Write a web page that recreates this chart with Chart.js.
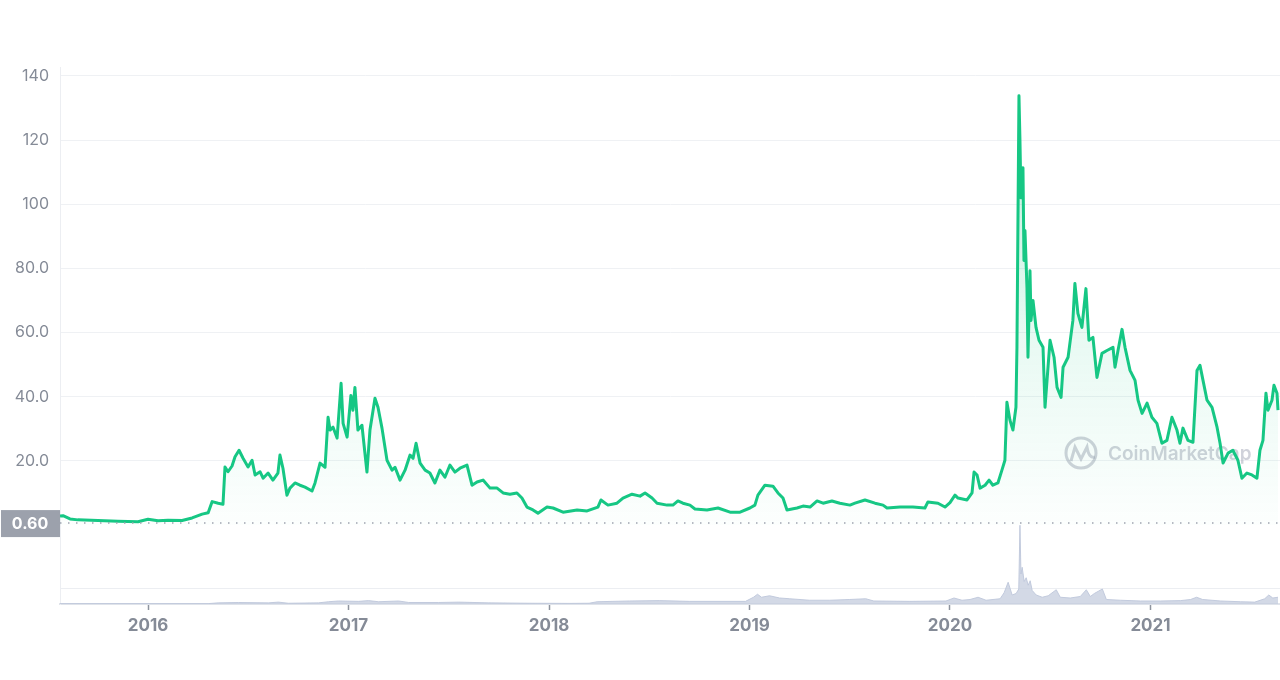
<!DOCTYPE html>
<html>
<head>
<meta charset="utf-8">
<script src="https://cdn.jsdelivr.net/npm/chart.js@4.4.1/dist/chart.umd.min.js"></script>
<style>
  html, body { margin: 0; padding: 0; background: #fff; }
  #wrap { width: 1280px; height: 680px; }
</style>
</head>
<body>
<div id="wrap"><canvas id="priceChart"></canvas></div>
<script>
const yearTicks = [2016, 2017, 2018, 2019, 2020, 2021];
const priceTicks = [20, 40, 60, 80, 100, 120, 140];
const volumeTicks = [20];
const referencePrice = 0.60;

// [decimal year, price in USD]
const priceHistory = [
  [2015.561, 2.8], [2015.576, 2.9], [2015.611, 1.9], [2015.65, 1.6], [2015.75, 1.4], [2015.85, 1.2],
  [2015.95, 1.0], [2016.0, 1.8], [2016.05, 1.3], [2016.1, 1.5], [2016.17, 1.4], [2016.22, 2.2],
  [2016.27, 3.4], [2016.3, 3.8], [2016.32, 7.3], [2016.35, 6.8], [2016.374, 6.5], [2016.384, 18.1],
  [2016.399, 16.6], [2016.419, 18.4], [2016.434, 21.3], [2016.454, 23.3], [2016.474, 20.8], [2016.499, 18.1],
  [2016.519, 20.2], [2016.534, 15.6], [2016.559, 16.6], [2016.574, 14.6], [2016.599, 16.2], [2016.623, 14.0],
  [2016.648, 16.2], [2016.658, 21.8], [2016.673, 17.7], [2016.693, 9.3], [2016.708, 11.5], [2016.733, 13.1],
  [2016.758, 12.4], [2016.783, 11.8], [2016.818, 10.6], [2016.833, 13.1], [2016.858, 19.3], [2016.883, 18.0],
  [2016.898, 33.6], [2016.908, 29.6], [2016.923, 30.5], [2016.943, 27.1], [2016.963, 44.2], [2016.973, 31.7],
  [2016.993, 27.4], [2017.012, 40.4], [2017.022, 35.8], [2017.032, 42.9], [2017.047, 29.6], [2017.067, 31.1],
  [2017.092, 16.5], [2017.107, 29.6], [2017.132, 39.5], [2017.147, 36.7], [2017.167, 30.2], [2017.192, 20.2],
  [2017.217, 17.1], [2017.232, 18.0], [2017.257, 14.0], [2017.282, 17.1], [2017.307, 21.8], [2017.322, 20.8],
  [2017.337, 25.5], [2017.357, 19.3], [2017.382, 17.1], [2017.406, 16.2], [2017.431, 13.1], [2017.456, 17.1],
  [2017.481, 14.9], [2017.506, 18.7], [2017.531, 16.5], [2017.556, 17.7], [2017.591, 18.7], [2017.616, 12.4],
  [2017.641, 13.4], [2017.671, 14.0], [2017.706, 11.5], [2017.741, 11.5], [2017.771, 10.0], [2017.805, 9.6],
  [2017.84, 10.0], [2017.865, 8.4], [2017.89, 5.6], [2017.92, 4.7], [2017.945, 3.7], [2017.99, 5.6],
  [2018.02, 5.3], [2018.07, 4.0], [2018.14, 4.7], [2018.19, 4.4], [2018.244, 5.6], [2018.259, 7.8],
  [2018.294, 6.2], [2018.339, 6.8], [2018.369, 8.4], [2018.414, 9.6], [2018.454, 9.0], [2018.479, 10.0],
  [2018.514, 8.4], [2018.539, 6.8], [2018.589, 6.2], [2018.618, 6.2], [2018.643, 7.5], [2018.668, 6.8],
  [2018.703, 6.2], [2018.728, 5.0], [2018.788, 4.7], [2018.843, 5.3], [2018.903, 4.0], [2018.953, 4.0],
  [2019.002, 5.3], [2019.027, 6.2], [2019.042, 9.3], [2019.077, 12.4], [2019.117, 12.1], [2019.142, 10.0],
  [2019.167, 8.4], [2019.187, 4.7], [2019.237, 5.3], [2019.267, 5.9], [2019.302, 5.6], [2019.337, 7.5],
  [2019.367, 6.8], [2019.411, 7.5], [2019.451, 6.8], [2019.501, 6.2], [2019.526, 6.8], [2019.576, 7.8],
  [2019.626, 6.8], [2019.666, 6.2], [2019.686, 5.3], [2019.751, 5.6], [2019.815, 5.6], [2019.875, 5.3],
  [2019.89, 7.2], [2019.94, 6.8], [2019.975, 5.6], [2020.0, 7.0], [2020.025, 9.3], [2020.04, 8.4],
  [2020.085, 7.8], [2020.11, 10.0], [2020.12, 16.5], [2020.135, 15.6], [2020.15, 11.5], [2020.175, 12.4],
  [2020.195, 14.0], [2020.214, 12.4], [2020.239, 13.1], [2020.259, 17.1], [2020.274, 20.2], [2020.284, 38.3],
  [2020.299, 32.7], [2020.314, 29.6], [2020.329, 36.7], [2020.334, 55.4], [2020.344, 133.8], [2020.349, 119.8],
  [2020.354, 102.0], [2020.364, 111.4], [2020.369, 82.5], [2020.374, 91.8], [2020.384, 74.0], [2020.389, 52.3],
  [2020.399, 79.3], [2020.404, 63.8], [2020.414, 70.0], [2020.429, 61.6], [2020.444, 57.6], [2020.464, 55.4],
  [2020.474, 36.7], [2020.484, 45.1], [2020.499, 57.6], [2020.519, 52.3], [2020.534, 42.9], [2020.554, 39.8],
  [2020.564, 49.2], [2020.589, 52.3], [2020.613, 63.8], [2020.623, 75.3], [2020.638, 66.0], [2020.658, 61.6],
  [2020.678, 73.7], [2020.693, 57.6], [2020.713, 58.5], [2020.733, 46.0], [2020.758, 53.5], [2020.783, 54.4],
  [2020.813, 55.4], [2020.823, 49.2], [2020.838, 54.4], [2020.858, 61.0], [2020.873, 55.4], [2020.898, 48.2],
  [2020.923, 45.1], [2020.938, 38.9], [2020.958, 34.8], [2020.983, 38.0], [2021.007, 33.6], [2021.032, 31.7],
  [2021.057, 25.5], [2021.082, 26.4], [2021.107, 33.6], [2021.132, 29.6], [2021.147, 25.5], [2021.162, 30.2],
  [2021.187, 26.4], [2021.212, 25.8], [2021.232, 48.2], [2021.247, 49.8], [2021.262, 45.1], [2021.282, 38.9],
  [2021.307, 36.7], [2021.332, 30.5], [2021.347, 25.5], [2021.362, 19.3], [2021.387, 22.4], [2021.411, 23.3],
  [2021.436, 20.2], [2021.456, 14.6], [2021.481, 16.2], [2021.506, 15.6], [2021.531, 14.6], [2021.546, 23.3],
  [2021.561, 26.4], [2021.576, 41.1], [2021.586, 35.8], [2021.606, 38.9], [2021.616, 43.6], [2021.631, 41.1],
  [2021.636, 35.8]
];

// [decimal year, volume in relative units]
const volumeHistory = [
  [2015.561, 0.5], [2016.3, 0.5], [2016.35, 1.5], [2016.45, 2], [2016.6, 1.5], [2016.65, 2.5],
  [2016.7, 1], [2016.85, 1.5], [2016.9, 3], [2016.95, 4], [2017.05, 3.5], [2017.1, 4.5],
  [2017.15, 3], [2017.25, 4], [2017.3, 2], [2017.45, 2], [2017.55, 2.5], [2017.7, 1.5],
  [2017.9, 1], [2018.1, 0.8], [2018.2, 1], [2018.24, 3], [2018.4, 4], [2018.55, 4.5],
  [2018.7, 3.5], [2018.98, 3.5], [2019.02, 9], [2019.04, 13], [2019.06, 9], [2019.1, 11],
  [2019.15, 8], [2019.2, 7], [2019.3, 5], [2019.4, 5], [2019.5, 6], [2019.58, 7],
  [2019.62, 4], [2019.8, 3.5], [2019.98, 4], [2020.02, 8], [2020.06, 5], [2020.1, 6],
  [2020.14, 9], [2020.18, 5], [2020.25, 7], [2020.27, 15], [2020.29, 29], [2020.31, 12],
  [2020.33, 14], [2020.343, 20], [2020.349, 105], [2020.354, 40], [2020.36, 49], [2020.37, 30],
  [2020.38, 35], [2020.39, 25], [2020.4, 31], [2020.41, 18], [2020.43, 12], [2020.46, 9],
  [2020.49, 11], [2020.53, 19], [2020.55, 9], [2020.6, 8], [2020.65, 10], [2020.68, 19],
  [2020.7, 10], [2020.72, 14], [2020.74, 17], [2020.76, 20], [2020.78, 6], [2020.85, 5],
  [2020.95, 4], [2021.05, 4], [2021.15, 4.5], [2021.2, 6], [2021.23, 9], [2021.26, 6],
  [2021.35, 4], [2021.45, 3], [2021.52, 2.5], [2021.57, 7], [2021.59, 12], [2021.61, 8],
  [2021.636, 9]
];

const green = '#16c784';
const labelGrey = '#858b97';

function priceFill(context) {
  const chart = context.chart;
  const area = chart.chartArea;
  if (!area) return 'rgba(22,199,132,0.1)';
  const zero = chart.scales.y.getPixelForValue(0);
  const g = chart.ctx.createLinearGradient(0, area.top + 60, 0, zero);
  g.addColorStop(0, 'rgba(22,199,132,0.28)');
  g.addColorStop(0.5, 'rgba(22,199,132,0.10)');
  g.addColorStop(1, 'rgba(22,199,132,0.01)');
  return g;
}

// watermark, dotted reference line and the price badge on the left
const cmcOverlay = {
  id: 'cmcOverlay',
  beforeDatasetsDraw(chart) {
    const { ctx, chartArea } = chart;
    const cx = chartArea.right - 199;
    const cy = chartArea.top + 386;
    ctx.save();
    ctx.strokeStyle = 'rgba(150,156,172,0.45)';
    ctx.lineWidth = 3;
    ctx.beginPath();
    ctx.arc(cx, cy, 15, 0, Math.PI * 2);
    ctx.stroke();
    ctx.beginPath();
    ctx.moveTo(cx - 10, cy + 8);
    ctx.lineTo(cx - 6, cy - 6);
    ctx.lineTo(cx, cy + 6);
    ctx.lineTo(cx + 6, cy - 6);
    ctx.quadraticCurveTo(cx + 8, cy + 6, cx + 14, cy + 4);
    ctx.stroke();
    ctx.fillStyle = 'rgba(150,156,172,0.45)';
    ctx.font = '600 19px Inter';
    ctx.textBaseline = 'middle';
    ctx.fillText('CoinMarketCap', cx + 27, cy + 1);
    ctx.restore();
  },
  afterDatasetsDraw(chart) {
    const { ctx, chartArea } = chart;
    const y = chart.scales.y.getPixelForValue(referencePrice);
    ctx.save();
    ctx.strokeStyle = '#9ea4b0';
    ctx.lineWidth = 1.5;
    ctx.setLineDash([1.5, 6.5]);
    ctx.beginPath();
    ctx.moveTo(chartArea.left, y);
    ctx.lineTo(chartArea.right, y);
    ctx.stroke();
    ctx.restore();
  },
  afterDraw(chart) {
    const { ctx, chartArea } = chart;
    const y = chart.scales.y.getPixelForValue(referencePrice);
    ctx.save();
    ctx.fillStyle = '#9ca1ac';
    ctx.fillRect(1, y - 13, chartArea.left - 1, 27);
    ctx.fillStyle = '#ffffff';
    ctx.font = 'bold 16px Inter';
    ctx.textAlign = 'center';
    ctx.textBaseline = 'middle';
    ctx.fillText(referencePrice.toFixed(2), chartArea.left / 2, y + 1);
    ctx.restore();
  }
};

const ctx = document.getElementById('priceChart').getContext('2d');
new Chart(ctx, {
  type: 'line',
  data: {
    datasets: [
      {
        label: 'Price',
        yAxisID: 'y',
        data: priceHistory.map(p => ({ x: p[0], y: p[1] })),
        borderColor: green,
        borderWidth: 3,
        borderJoinStyle: 'round',
        backgroundColor: priceFill,
        fill: 'origin',
        pointRadius: 0,
        tension: 0,
        order: 1
      },
      {
        label: 'Volume',
        yAxisID: 'yVol',
        data: volumeHistory.map(p => ({ x: p[0], y: p[1] })),
        borderColor: 'rgba(190,198,218,0.9)',
        borderWidth: 1,
        backgroundColor: 'rgba(196,204,222,0.75)',
        fill: 'origin',
        pointRadius: 0,
        tension: 0,
        order: 2
      }
    ]
  },
  options: {
    responsive: true,
    maintainAspectRatio: false,
    animation: false,
    layout: { padding: { top: 67, left: 0, right: 0, bottom: 0 } },
    plugins: {
      legend: { display: false },
      tooltip: { enabled: false }
    },
    scales: {
      x: {
        type: 'linear',
        min: 2015.561,
        max: 2021.646,
        afterBuildTicks: s => { s.ticks = yearTicks.map(v => ({ value: v })); },
        afterFit: s => { s.height = 76; },
        grid: { drawOnChartArea: false, tickLength: 6, tickColor: '#8e949f', tickWidth: 1.5 },
        border: { color: '#dfe3ea', width: 2 },
        ticks: {
          autoSkip: false,
          maxRotation: 0,
          padding: 6,
          color: labelGrey,
          font: { family: 'Inter', size: 17, weight: 'bold' },
          callback: v => String(v)
        }
      },
      y: {
        position: 'left',
        min: -24.63,
        max: 142.8,
        afterBuildTicks: s => { s.ticks = priceTicks.map(v => ({ value: v })); },
        afterFit: s => { s.width = 60; },
        grid: { color: '#eff1f4', drawTicks: false },
        border: { color: '#eceef2' },
        ticks: {
          padding: 11,
          color: labelGrey,
          font: { family: 'Inter', size: 16 },
          callback: v => v >= 100 ? String(v) : v.toFixed(1)
        }
      },
      yVol: {
        position: 'right',
        min: 0,
        max: 715.8,
        afterBuildTicks: s => { s.ticks = volumeTicks.map(v => ({ value: v })); },
        afterFit: s => { s.width = 0; },
        grid: { color: '#eceef2', drawTicks: false },
        border: { display: false },
        ticks: { display: false }
      }
    }
  },
  plugins: [cmcOverlay]
});
</script>
</body>
</html>
